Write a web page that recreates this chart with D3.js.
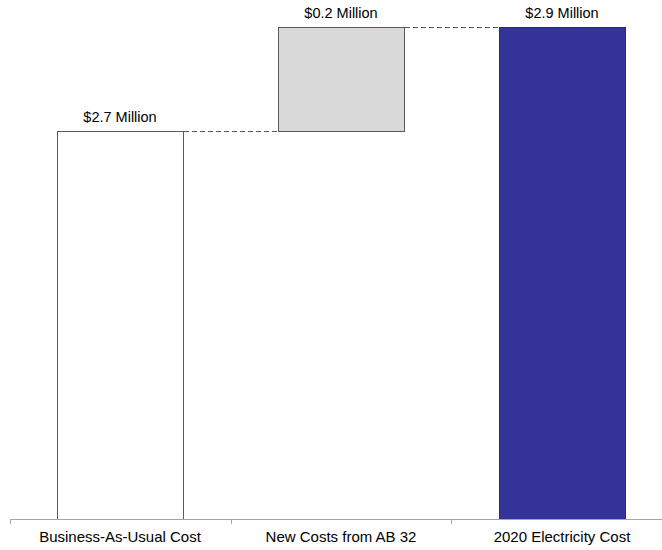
<!DOCTYPE html>
<html>
<head>
<meta charset="utf-8">
<script src="https://cdn.jsdelivr.net/npm/d3@7"></script>
<style>
  body { margin: 0; background: #fff; }
  svg { display: block; font-family: "Liberation Sans", Arial, sans-serif; }
</style>
</head>
<body>
<svg id="chart"></svg>
<script>
// Waterfall data (millions of dollars)
const categories = ["Business-As-Usual Cost", "New Costs from AB 32", "2020 Electricity Cost"];
const starts = [0, 2.7, 0];
const ends = [2.7, 2.9, 2.9];
const labels = ["$2.7 Million", "$0.2 Million", "$2.9 Million"];
const fills = ["#ffffff", "#d9d9d9", "#333399"];

const width = 662, height = 550;
const margin = { top: 27, right: -10, bottom: 31, left: 10 };

const svg = d3.select("#chart")
  .attr("width", width)
  .attr("height", height);

const x = d3.scaleBand()
  .domain(categories)
  .range([margin.left, width - margin.right])
  .paddingInner(0)
  .paddingOuter(0);

// value axis is not drawn; baseline sits below zero of the visible range
const y = d3.scaleLinear()
  .domain([1.954, 2.9])
  .range([height - margin.bottom, margin.top]);

const barW = 126;
const bx = d => Math.round(x(d) + (x.bandwidth() - barW) / 2);
const base = d => Math.max(d, y.domain()[0]);

// connectors
const conn = [[0, 1, ends[0]], [1, 2, ends[1]]];
svg.selectAll(".conn")
  .data(conn)
  .enter()
  .append("line")
  .attr("x1", d => bx(categories[d[0]]) + barW + 1)
  .attr("x2", d => bx(categories[d[1]]))
  .attr("y1", d => Math.round(y(d[2])) + 0.5)
  .attr("y2", d => Math.round(y(d[2])) + 0.5)
  .attr("stroke", "#595959")
  .attr("stroke-width", 1)
  .attr("stroke-dasharray", "5,3");

// bars
svg.selectAll(".bar")
  .data(categories)
  .enter()
  .append("rect")
  .attr("x", d => bx(d) + 0.5)
  .attr("width", barW)
  .attr("y", (d, i) => Math.round(y(ends[i])) + 0.5)
  .attr("height", (d, i) => Math.round(y(base(starts[i]))) - Math.round(y(ends[i])))
  .attr("fill", (d, i) => fills[i])
  .attr("stroke", (d, i) => i === 2 ? "#2a2a80" : "#595959")
  .attr("stroke-width", 1);

// value labels
svg.selectAll(".lbl")
  .data(categories)
  .enter()
  .append("text")
  .attr("x", d => bx(d) + barW / 2)
  .attr("y", (d, i) => y(ends[i]) - 9)
  .attr("text-anchor", "middle")
  .style("font-size", "14.5px")
  .style("fill", "#000")
  .text((d, i) => labels[i]);

// category axis
const axisY = height - margin.bottom;
svg.append("line")
  .attr("x1", margin.left).attr("x2", width)
  .attr("y1", axisY + 0.5).attr("y2", axisY + 0.5)
  .attr("stroke", "#a6a6a6");

const tickXs = categories.map(c => x(c));
svg.selectAll(".tick")
  .data(tickXs)
  .enter()
  .append("line")
  .attr("x1", d => Math.round(d) + 0.5).attr("x2", d => Math.round(d) + 0.5)
  .attr("y1", axisY).attr("y2", axisY + 5)
  .attr("stroke", "#a6a6a6");

svg.selectAll(".cat")
  .data(categories)
  .enter()
  .append("text")
  .attr("x", d => bx(d) + barW / 2)
  .attr("y", axisY + 23)
  .attr("text-anchor", "middle")
  .style("font-size", "15px")
  .style("fill", "#000")
  .text(d => d);
</script>
</body>
</html>
